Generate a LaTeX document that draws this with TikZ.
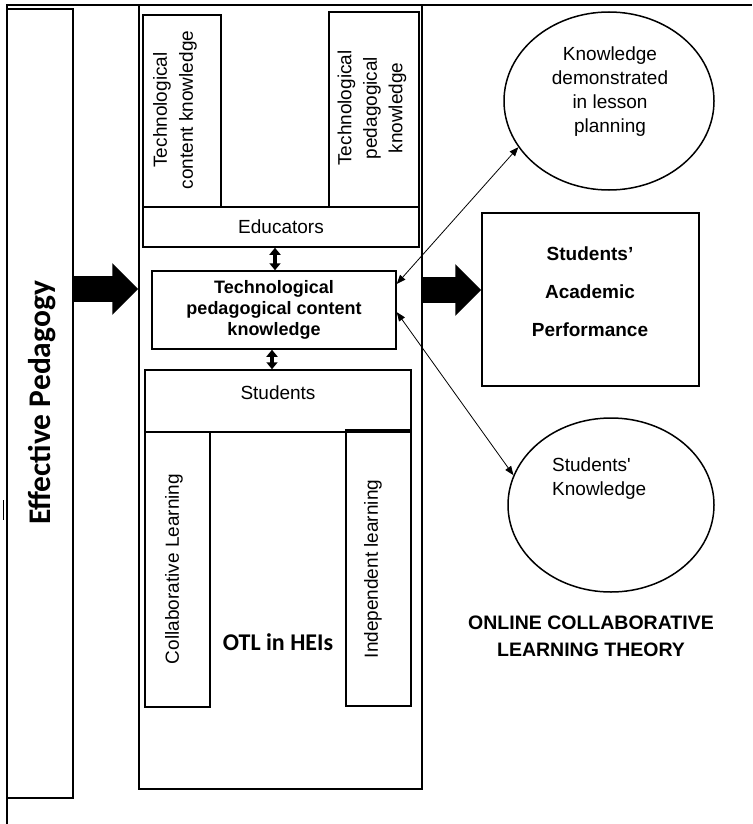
\documentclass[tikz,border=0pt]{standalone}
\usepackage{fontspec}
\setmainfont{Liberation Sans}
\newfontfamily\calibrifont{Carlito}
\usetikzlibrary{arrows.meta,shapes.geometric}
\begin{document}
\begin{tikzpicture}[x=1pt,y=-1pt,
  box/.style={draw,line width=1.5pt,inner sep=0pt},
  oval/.style={draw,ellipse,line width=1.5pt,inner sep=0pt},
  txt/.style={inner sep=0pt,align=center,font=\fontsize{19}{24}\selectfont},
  btxt/.style={inner sep=0pt,align=center,font=\fontsize{18}{21}\selectfont\bfseries},
  cbtxt/.style={inner sep=0pt,align=center,font=\calibrifont\bfseries\fontsize{24}{28}\selectfont},
  bigarrow/.style={line width=26pt,-{Triangle[length=26pt,width=50pt]}},
  vdbl/.style={line width=3.5pt,{Triangle[length=7pt,width=11pt]}-{Triangle[length=7pt,width=11pt]}},
  thin/.style={line width=0.8pt,{Triangle[length=9pt,width=7pt]}-{Triangle[length=9pt,width=7pt]}}]
\useasboundingbox (0,0) rectangle (752,824);
% frame
\draw[line width=1.5pt] (7,824) -- (7,5) -- (752,5);
\draw[line width=0.8pt] (3,500) -- (3,520);
% left column
\node[box,minimum width=66pt,minimum height=789pt] (ep) at (40,403.5) {};
\node[cbtxt,rotate=90,font=\calibrifont\bfseries\fontsize{31.5}{36}\selectfont] (eptxt) at (42,403) {Effective Pedagogy};
% middle column
\node[box,minimum width=283pt,minimum height=784pt] (mid) at (280.5,397) {};
\node[box,minimum width=78pt,minimum height=192pt] (tck) at (182,111) {};
\node[txt,rotate=90,font=\fontsize{19}{26}\selectfont] (tcktxt) at (175,110) {Technological\\content knowledge};
\node[box,minimum width=90pt,minimum height=195pt] (tpk) at (374,109.5) {};
\node[txt,rotate=90,font=\fontsize{19}{25.5}\selectfont] (tpktxt) at (372,108) {Technological\\pedagogical\\knowledge};
\node[box,minimum width=276pt,minimum height=40pt] (edu) at (281,227) {};
\node[txt] (edutxt) at (281,227) {Educators};
\node[box,minimum width=244pt,minimum height=78pt] (tpck) at (274,310) {};
\node[btxt] (tpcktxt) at (274,310) {Technological\\pedagogical content\\knowledge};
\node[box,minimum width=266pt,minimum height=62pt] (stu) at (278,401) {};
\node[txt] (stutxt) at (278,393) {Students};
\node[box,minimum width=65pt,minimum height=275pt] (col) at (177.5,569.5) {};
\node[txt,rotate=90] (coltxt) at (174,569) {Collaborative Learning};
\node[box,minimum width=65pt,minimum height=276pt] (ind) at (378.5,568) {};
\node[txt,rotate=90] (indtxt) at (373,569) {Independent learning};
\node[cbtxt] (otl) at (278,642) {OTL in HEIs};
% right column
\node[oval,minimum width=210pt,minimum height=178pt] (ell1) at (609,101) {};
\node[txt] (ell1txt) at (610,92) {Knowledge\\demonstrated\\in lesson\\planning};
\node[box,minimum width=217pt,minimum height=173pt] (sap) at (590.5,299.5) {};
\node[txt,font=\fontsize{19}{38}\selectfont\bfseries] (saptxt) at (590,292) {Students’\\Academic\\Performance};
\node[oval,minimum width=206pt,minimum height=174pt] (ell2) at (611,505) {};
\node[txt,align=left,anchor=west] (ell2txt) at (552,479) {Students\textquotesingle\\Knowledge};
\node[txt,font=\fontsize{19.5}{27}\selectfont\bfseries] (oclt) at (591,636) {ONLINE COLLABORATIVE\\LEARNING THEORY};
% connectors
\draw[bigarrow] (ep.east |- 0,289) -- (mid.west |- 0,289);
\draw[bigarrow] (mid.east |- 0,290) -- (sap.west |- 0,290);
\draw[vdbl] (edu.south -| 275,0) -- (tpck.north -| 275,0);
\draw[vdbl] (tpck.south -| 272,0) -- (stu.north -| 272,0);
\draw[thin] (tpck.12.5) -- (ell1.207.8);
\draw[thin] (tpck.-1.5) -- (ell2.163);
\end{tikzpicture}
\end{document}
